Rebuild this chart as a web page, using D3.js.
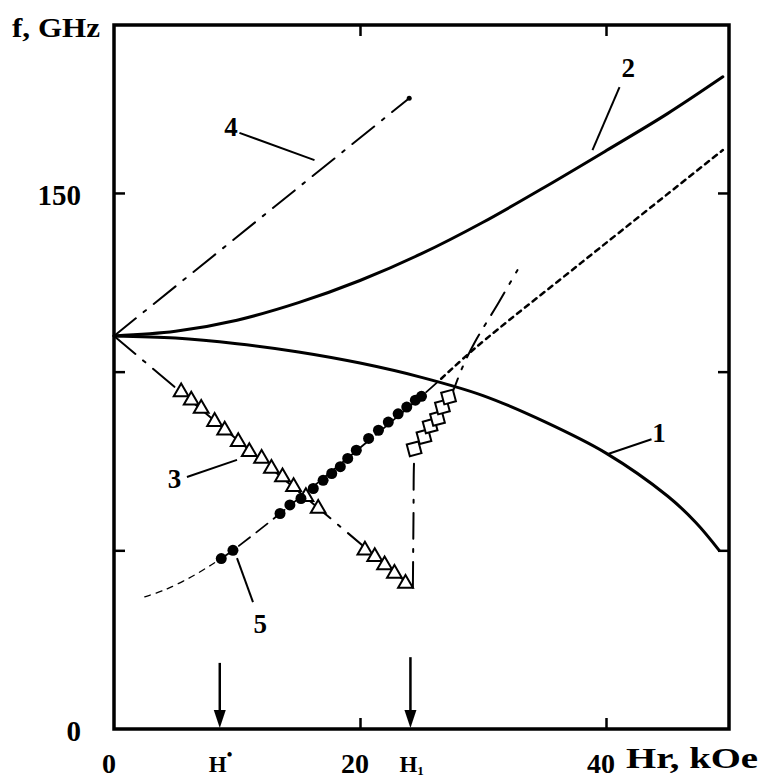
<!DOCTYPE html>
<html>
<head>
<meta charset="utf-8">
<script src="https://cdn.jsdelivr.net/npm/d3@7"></script>
<style>
  body { margin: 0; background: #fff; }
  svg { display: block; }
  text { font-family: "Liberation Serif", "Times New Roman", serif; fill: #000; }
</style>
</head>
<body>
<svg id="chart" width="761" height="778"></svg>
<script>
// tick labels
const xTickValues = [20, 40];
const yTickValues = [50, 100, 150];
const xLabelValues = [0, 20, 40];
const yLabelValues = [0, 150];

// curve 1 (solid, lower branch)
const curve1H = [0, 5, 10, 15, 20, 25, 30, 35, 40, 45, 47.3, 49.2];
const curve1F = [110, 109.4, 107.8, 105.5, 102.4, 98.4, 93.3, 86, 77.2, 65.2, 57.8, 50];

// curve 2 (solid, upper branch)
const curve2H = [0, 5, 10, 15, 20, 25, 30, 35, 40, 45, 49.5];
const curve2F = [110, 111.3, 114.4, 119.3, 125.5, 133, 141.8, 151.6, 161.8, 172.2, 182.5];

// line 3 (dash-dot, falling) and line 4 (dash-dot, rising)
const line3H = [0, 24.3];
const line3F = [110, 39.5];
const line4H = [0, 24];
const line4F = [110, 176.5];

// steep dash-dot branch through the squares
const steepH = [24.3, 24.35, 24.4, 24.5, 25.4, 26.3, 27.3, 28.3, 29.3, 31.3, 32.8];
const steepF = [39.5, 60, 75, 78.5, 81.8, 86.9, 92.5, 101, 108, 119.5, 128.4];

// line 5: thin dashed start, dashed through circles, dotted continuation
const line5aH = [2.5, 4.1, 6.3, 7.9, 8.72];
const line5aF = [37, 38.9, 42.6, 45.9, 47.7];
const line5bH = [8.72, 9.67, 13.5, 25, 26.6];
const line5bF = [47.7, 50, 60.3, 93.1, 98];
const dottedH = [26.6, 29.4, 38, 49.5];
const dottedF = [98, 106.7, 130.5, 162];

// experimental points
const triH = [5.46, 6.28, 7.09, 8.18, 9.0, 10.1, 11.0, 12.0, 12.8, 13.7, 14.6, 15.6, 16.6, 20.4, 21.2, 22.0, 22.8, 23.7];
const triF = [94.3, 92, 89.7, 86, 83.6, 80.4, 77.6, 75.7, 72.9, 70.5, 67.8, 65, 61.7, 50, 48.2, 45.9, 43.5, 40.7];
const circH = [8.72, 9.67, 13.5, 14.3, 15.2, 16.2, 17.0, 17.7, 18.4, 19.0, 19.7, 20.7, 21.5, 22.3, 23.1, 23.8, 24.5, 25.0];
const circF = [47.7, 50, 60.3, 62.7, 64.5, 67.3, 69.6, 71.5, 73.4, 75.7, 78, 81.3, 83.6, 85.9, 88.2, 90.1, 92, 93.1];
const sqH = [24.4, 25.2, 25.7, 26.3, 26.7, 27.2];
const sqF = [78.4, 81.8, 84.8, 86.9, 90.1, 92.9];

// curve number labels and their leader lines
const noteText = ["1", "2", "3", "4", "5"];
const noteH = [44.3, 41.8, 4.92, 9.51, 11.9];
const noteF = [80.3, 182.4, 67.4, 165.9, 26.9];
const leaderH1 = [43.7, 41.1, 5.93, 10.2, 10.0];
const leaderF1 = [81.1, 179.6, 70.5, 166.8, 47.8];
const leaderH2 = [40.1, 38.9, 10.0, 16.3, 11.3];
const leaderF2 = [76.9, 162, 75.3, 159.2, 35.5];

// field markers H* and H1
const arrowH = [8.6, 24.1];
const arrowTop = [18.5, 20.1];
const arrowName = ["H", "H"];
const arrowMark = ["•", "1"];

const svg = d3.select("#chart");
const x = d3.scaleLinear().domain([0, 50]).range([114, 729]);
const y = d3.scaleLinear().domain([0, 197]).range([729, 25]);

const zip = (a, b) => a.map((v, i) => [v, b[i]]);
const line = d3.line().x(d => x(d[0])).y(d => y(d[1])).curve(d3.curveCatmullRom);

function drawPath(h, f, width, dash) {
    svg.append("path")
        .attr("d", line(zip(h, f)))
        .attr("fill", "none")
        .attr("stroke", "#000")
        .attr("stroke-width", width)
        .attr("stroke-linecap", "round")
        .attr("stroke-dasharray", dash);
}

// axes, ticks inward
function addAxis(axis, transform) {
    const g = svg.append("g").attr("transform", transform).call(axis);
    g.select(".domain").remove();
    g.selectAll(".tick line").attr("stroke-width", 2.5);
    g.selectAll(".tick text").remove();
}
addAxis(d3.axisBottom(x).tickValues(xTickValues).tickSize(-11), "translate(0,729)");
addAxis(d3.axisTop(x).tickValues(xTickValues).tickSize(-11), "translate(0,25)");
addAxis(d3.axisLeft(y).tickValues(yTickValues).tickSize(-11), "translate(114,0)");
addAxis(d3.axisRight(y).tickValues(yTickValues).tickSize(-11), "translate(729,0)");

svg.append("rect")
    .attr("x", x(0)).attr("y", y(197))
    .attr("width", x(50) - x(0)).attr("height", y(0) - y(197))
    .attr("fill", "none").attr("stroke", "#000").attr("stroke-width", 3.5);

// tick labels
svg.selectAll(".xlab").data(xLabelValues).enter().append("text")
    .attr("x", d => x(d) - 5).attr("y", 773)
    .attr("text-anchor", "middle").attr("font-size", 28).attr("font-weight", "bold")
    .text(d => d);
svg.selectAll(".ylab").data(yLabelValues).enter().append("text")
    .attr("x", 81).attr("y", d => y(d) + 12)
    .attr("text-anchor", "end").attr("font-size", 29).attr("font-weight", "bold")
    .text(d => d);

svg.append("text").attr("x", 12).attr("y", 37)
    .attr("font-size", 28).attr("font-weight", "bold")
    .attr("textLength", 88).attr("lengthAdjust", "spacingAndGlyphs")
    .text("f, GHz");
svg.append("text").attr("x", 626).attr("y", 768)
    .attr("font-size", 29).attr("font-weight", "bold")
    .attr("textLength", 132).attr("lengthAdjust", "spacingAndGlyphs")
    .text("Hr, kOe");

// curves
drawPath(curve1H, curve1F, 3, null);
drawPath(curve2H, curve2F, 3, null);
drawPath(line3H, line3F, 2, "28,10,3,10");
drawPath(line4H, line4F, 2, "28,10,3,10");
drawPath(steepH, steepF, 2, "26,10,3,10");
drawPath(line5aH, line5aF, 1.3, "6,6");
drawPath(line5bH, line5bF, 1.8, "14,8");
drawPath(dottedH, dottedF, 2.5, "5,5");

// end dot on line 4
svg.append("circle").attr("cx", x(line4H[1])).attr("cy", y(line4F[1])).attr("r", 2.5);

// markers
const tri = d3.symbol().type(d3.symbolTriangle).size(95);
svg.selectAll(".tri").data(zip(triH, triF)).enter().append("path")
    .attr("d", tri)
    .attr("transform", d => `translate(${x(d[0])},${y(d[1])})`)
    .attr("fill", "#fff").attr("stroke", "#000").attr("stroke-width", 2);

const sq = d3.symbol().type(d3.symbolSquare).size(145);
svg.selectAll(".sq").data(zip(sqH, sqF)).enter().append("path")
    .attr("d", sq)
    .attr("transform", d => `translate(${x(d[0])},${y(d[1])}) rotate(-15)`)
    .attr("fill", "#fff").attr("stroke", "#000").attr("stroke-width", 2);

svg.selectAll(".dot").data(zip(circH, circF)).enter().append("circle")
    .attr("cx", d => x(d[0])).attr("cy", d => y(d[1])).attr("r", 5.5)
    .attr("fill", "#000");

// curve numbers
noteText.forEach((t, i) => {
    svg.append("line")
        .attr("x1", x(leaderH1[i])).attr("y1", y(leaderF1[i]))
        .attr("x2", x(leaderH2[i])).attr("y2", y(leaderF2[i]))
        .attr("stroke", "#000").attr("stroke-width", 2);
    svg.append("text")
        .attr("x", x(noteH[i])).attr("y", y(noteF[i]))
        .attr("text-anchor", "middle").attr("font-size", 27).attr("font-weight", "bold")
        .text(t);
});

// H* and H1 arrows
arrowH.forEach((h, i) => {
    const cx = x(h);
    svg.append("line")
        .attr("x1", cx).attr("y1", y(arrowTop[i]))
        .attr("x2", cx).attr("y2", y(0) - 16)
        .attr("stroke", "#000").attr("stroke-width", 2.5);
    svg.append("path")
        .attr("d", `M${cx - 6},${y(0) - 19}L${cx + 6},${y(0) - 19}L${cx},${y(0) - 1}Z`)
        .attr("fill", "#000");
    const t = svg.append("text")
        .attr("x", cx - 11).attr("y", 772)
        .attr("font-size", 23).attr("font-weight", "bold")
        .text(arrowName[i]);
    t.append("tspan")
        .attr("font-size", i === 0 ? 16 : 13)
        .attr("dy", i === 0 ? -12 : 3)
        .text(arrowMark[i]);
});
</script>
</body>
</html>
